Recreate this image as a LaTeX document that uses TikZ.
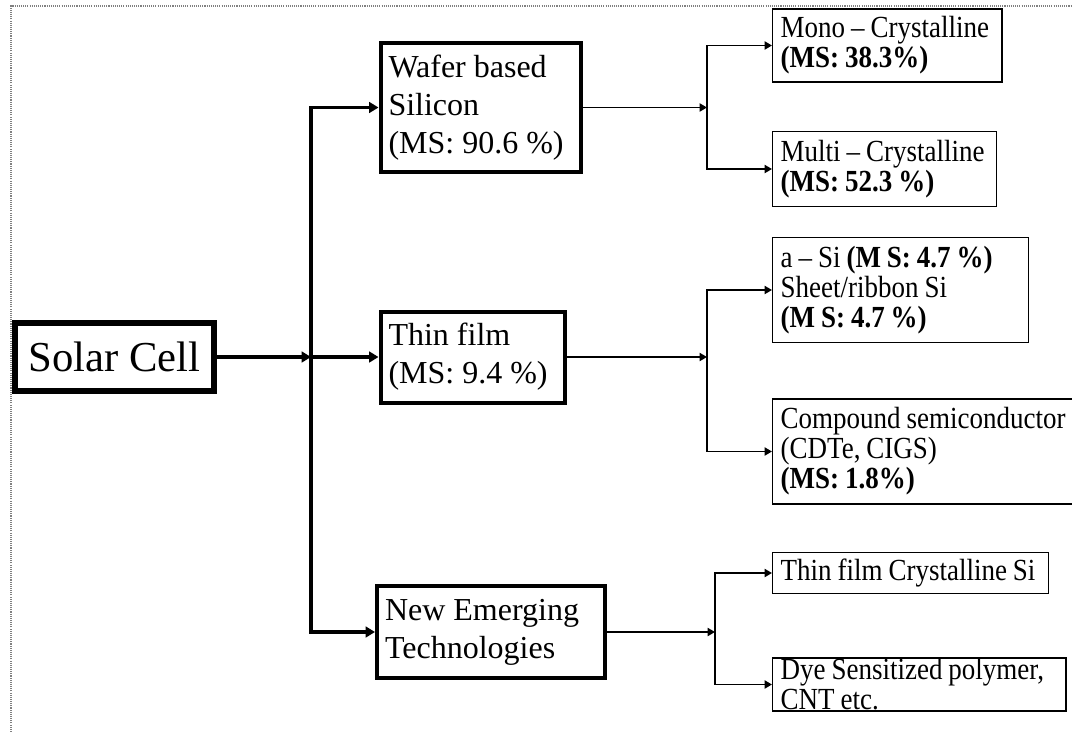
\documentclass[tikz,border=0pt]{standalone}
\usepackage{fontspec}
\setmainfont{Liberation Serif}
\newfontfamily\narrowserif[Ligatures=TeX,FakeStretch=0.88,WordSpace=0.88]{Liberation Serif}
\usetikzlibrary{arrows.meta}
\newcommand{\leafx}{772}
\tikzstyle{root}=[
  draw,
  line width=4.5pt,
  minimum width=149pt,
  minimum height=51pt,
  inner sep=0pt,
  font=\fontsize{32}{38}\selectfont
]
\tikzstyle{branch}=[
  draw,
  line width=3pt,
  align=flush left,
  inner xsep=6pt,
  inner ysep=0pt,
  font=\fontsize{24}{28.3}\selectfont
]
\tikzstyle{leaf}=[
  draw,
  line width=1.1pt,
  anchor=west,
  align=flush left,
  inner xsep=6pt,
  inner ysep=0pt,
  font=\narrowserif\fontsize{23}{22.5}\selectfont
]
\tikzstyle{trunk}=[
  -{Triangle[length=7pt,width=8pt]},
  line width=2.4pt
]
\tikzstyle{twig}=[
  -{Triangle[length=5.5pt,width=6pt]},
  line width=1.4pt
]
\tikzstyle{frame}=[
  gray,
  line width=0.8pt,
  dash pattern=on 0.8pt off 0.8pt
]
\begin{document}
\begin{tikzpicture}[x=0.75pt,y=-0.75pt]
  \useasboundingbox (0,0) rectangle (1072,732);
  \draw[frame] (11,732) -- (11,6) -- (1072,6);

  \node[root] (solar) at (114.5,357) {Solar Cell};

  \node[branch, text width=138pt, minimum height=96.75pt] (wafer) at (480.5,107.5)
    {Wafer based\\Silicon\\(MS: 90.6 \%)};
  \node[branch, text width=126pt, minimum height=68.25pt] (thin) at (472.5,357)
    {Thin film\\(MS: 9.4 \%)};
  \node[branch, text width=159pt, minimum height=69pt] (new) at (491,632)
    {New Emerging\\Technologies};

  \node[leaf, text width=160pt, minimum height=55pt] (mono) at (\leafx,45.5)
    {Mono -- Crystalline\\\textbf{(MS: 38.3\%)}};
  \node[leaf, text width=156pt, minimum height=56pt] (multi) at (\leafx,169)
    {Multi -- Crystalline\\\textbf{(MS: 52.3 \%)}};
  \node[leaf, text width=180pt, minimum height=78.4pt] (asi) at (\leafx,290)
    {a -- Si \textbf{(M S: 4.7 \%)}\\Sheet/ribbon Si\\\textbf{(M S: 4.7 \%)}};
  \node[leaf, text width=216pt, minimum height=79pt] (comp) at (\leafx,451.5)
    {Compound semiconductor\\(CDTe, CIGS)\\\textbf{(MS: 1.8\%)}};
  \node[leaf, text width=195pt, minimum height=30.4pt] (tcs) at (\leafx,573)
    {Thin film Crystalline Si};
  \node[leaf, text width=208pt, minimum height=40pt] (dye) at (\leafx,684.5)
    {Dye Sensitized polymer,\\CNT etc.};

  \coordinate (j1) at (311,357);
  \coordinate (j2) at (707,107.5);
  \coordinate (j3) at (707,357);
  \coordinate (j4) at (715,632);

  % solar cell to the three families
  \draw[trunk] (solar) -- (j1);
  \draw[trunk] (j1) -- (thin);
  \draw[trunk] (j1) |- (wafer);
  \draw[trunk] (j1) |- (new);

  % families to their kinds
  \draw[twig] (wafer) -- (j2);
  \draw[twig] (j2) |- (mono);
  \draw[twig] (j2) |- (multi);
  \draw[twig] (thin) -- (j3);
  \draw[twig] (j3) |- (asi);
  \draw[twig] (j3) |- (comp);
  \draw[twig] (new) -- (j4);
  \draw[twig] (j4) |- (tcs);
  \draw[twig] (j4) |- (dye);
\end{tikzpicture}
\end{document}
